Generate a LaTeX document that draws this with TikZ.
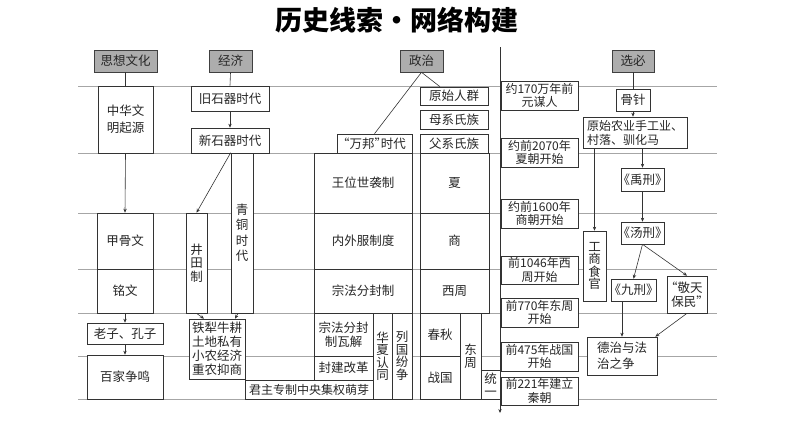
\documentclass[tikz,border=0pt]{standalone}
\usepackage{fontspec}
\setmainfont{Noto Sans CJK SC}
\usetikzlibrary{arrows.meta}
\tikzset{
  box/.style={draw=black!80,fill=white,line width=0.6pt,inner sep=0.5pt,align=center,
    text=black!85,font=\fontsize{12.5}{13.5}\selectfont},
  hdr/.style={fill=black!32,draw=black!75},
  tlb/.style={font=\fontsize{12}{13.5}\selectfont},
  gl/.style={draw=black!35,line width=0.6pt},
  ln/.style={draw=black!80,line width=0.6pt},
  arr/.style={ln,-{Stealth[length=4pt,width=3.4pt]}},
  hw/.style={font=\fontsize{12.5}{13.5}\selectfont\addfontfeature{RawFeature=+halt}}
}
\newcommand\BX[7][]{%
  \node[box,minimum width={(#5-#3)*1pt},minimum height={(#6-#4)*1pt},#1] (#2)
    at ({(#3+#5)/2},{(#4+#6)/2}) {#7};}
\begin{document}
\begin{tikzpicture}[x=1pt,y=-1pt]
\useasboundingbox (0,0) rectangle (794,447);
\node[font=\fontsize{27}{27}\selectfont\bfseries] (title) at (397,20) {历史线索•网络构建};
% background guide lines
\foreach \yy in {86,153,213,269,313,356,399}
  \draw[gl] (78,\yy) -- (717,\yy);
% headers
\BX[hdr]{h1}{94}{50}{157}{72}{思想文化}
\BX[hdr]{h2}{209}{50}{252}{72}{经济}
\BX[hdr]{h3}{400}{50}{443}{72}{政治}
\BX[hdr]{h4}{612}{50}{654}{72}{选必}
% thought & culture
\BX[font=\fontsize{12.5}{17}\selectfont]{zh}{98}{86}{153}{153}{中华文\\明起源}
\BX{jgw}{97}{213}{153}{269}{甲骨文}
\BX{mw}{97}{269}{153}{313}{铭文}
\BX{lz}{87}{323}{163}{344}{老子、孔子}
\BX{bj}{87}{355}{163}{399}{百家争鸣}
% economy
\BX{jiu}{191}{86}{269}{111}{旧石器时代}
\BX{xin}{191}{128}{269}{153}{新石器时代}
\BX{jt}{186}{213}{207}{313}{井\\田\\制}
\BX[font=\fontsize{12.5}{15.5}\selectfont]{qt}{231}{153}{253}{313}{青\\铜\\时\\代}
\BX[font=\fontsize{12.5}{14}\selectfont]{tl}{189}{319}{245}{379}{铁犁牛耕\\土地私有\\小农经济\\重农抑商}
% politics
\BX{ys}{420}{87}{488}{105}{原始人群}
\BX{mx}{420}{110}{488}{129}{母系氏族}
\BX{fx}{420}{134}{488}{153}{父系氏族}
\BX[hw]{wb}{337}{134}{412}{153}{“万邦”时代}
\BX{wwsx}{314}{153}{412}{213}{王位世袭制}
\BX{nwf}{314}{213}{412}{269}{内外服制度}
\BX{zffj}{314}{269}{412}{313}{宗法分封制}
\BX{xia}{420}{153}{489}{213}{夏}
\BX{shang}{420}{213}{489}{269}{商}
\BX{xz}{420}{269}{489}{313}{西周}
\BX[font=\fontsize{12.5}{14.5}\selectfont]{wj}{314}{313}{373}{356}{宗法分封\\制瓦解}
\BX{fjgg}{314}{356}{373}{380}{封建改革}
\BX[font=\fontsize{12.5}{12.5}\selectfont]{hx}{373}{313}{392}{399}{华\\夏\\认\\同}
\BX[font=\fontsize{12.5}{12.5}\selectfont]{lg}{392}{313}{412}{399}{列\\国\\纷\\争}
\BX[font=\fontsize{12}{13}\selectfont]{jz}{245}{380}{373}{399}{君主专制中央集权萌芽}
\BX{cq}{420}{313}{460}{356}{春秋}
\BX{zg}{420}{356}{460}{399}{战国}
\BX{dzh}{460}{313}{481}{399}{东\\周}
\BX{ty}{481}{370}{500}{399}{统\\一}
% timeline
\BX[tlb]{t1}{501}{81}{578}{110}{约170万年前\\元谋人}
\BX[tlb]{t2}{501}{138}{578}{167}{约前2070年\\夏朝开始}
\BX[tlb]{t3}{501}{199}{578}{228}{约前1600年\\商朝开始}
\BX[tlb]{t4}{501}{256}{578}{284}{前1046年西\\周开始}
\BX[tlb]{t5}{501}{298}{578}{327}{前770年东周\\开始}
\BX[tlb]{t6}{501}{342}{578}{371}{前475年战国\\开始}
\BX[tlb]{t7}{501}{377}{578}{405}{前221年建立\\秦朝}
% electives
\BX{gz}{616}{89}{650}{111}{骨针}
\BX[align=left,font=\fontsize{12}{14}\selectfont]{ny}{583}{117}{687}{148}{原始农业手工业、\\村落、驯化马}
\BX[hw]{yx}{621}{168}{664}{191}{《禹刑》}
\BX[hw]{tx}{621}{222}{664}{244}{《汤刑》}
\BX[font=\fontsize{12.5}{12.5}\selectfont]{gs}{583}{231}{606}{301}{工\\商\\食\\官}
\BX[hw]{jx}{611}{279}{656}{301}{《九刑》}
\BX[hw]{jtbm}{667}{276}{707}{313}{“敬天\\保民”}
\BX[align=left,font=\fontsize{12.5}{16}\selectfont]{dz2}{587}{337}{657}{375}{德治与法\\治之争}
% connectors
\draw[ln] (h1.south) -- (zh.north);
\draw[arr] (zh.south) -- (jgw.north);
\draw[arr] (mw.south) -- (lz.north);
\draw[arr] (lz.south) -- (bj.north);
\draw[ln] (h2.south) -- (jiu.north);
\draw[arr] (jiu.south) -- (xin.north);
\draw[arr] (qt.north west) -- (jt.north);
\draw[arr] (jt.south) -- ([xshift=-13pt]tl.north);
\draw[arr] ([xshift=-4pt]qt.south) -- ([xshift=18pt]tl.north);
\draw[ln] (h3.south) -- ([xshift=-14pt]ys.north);
\draw[ln] (h3.south) -- (wb.north);
\draw[ln] (h4.south) -- (gz.north);
\draw[arr] (gz.south) -- (gz.south |- ny.north);
\draw[arr] (yx.north |- ny.south) -- (yx.north);
\draw[arr] (gs.north |- ny.south) -- (gs.north);
\draw[arr] (yx.south) -- (tx.north);
\draw[arr] (tx.south) -- (jx.north);
\draw[arr] (tx.south) -- (jtbm.north);
\draw[arr] (dz2.north |- jx.south) -- (dz2.north);
\draw[arr] (jtbm.south) -- ([xshift=-2pt]dz2.north east);
\coordinate (ta) at (500,47);
\coordinate (tb) at (500,413);
\draw[arr] (ta) -- (tb);
\end{tikzpicture}
\end{document}
